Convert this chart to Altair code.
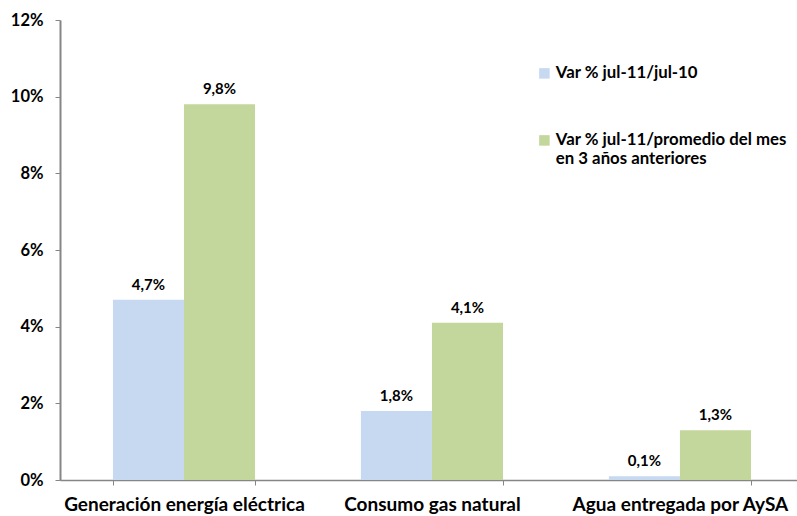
import altair as alt
import pandas as pd

# Categories and series
categories = ["Generación energía eléctrica", "Consumo gas natural", "Agua entregada por AySA"]
series_names = ["Var % jul-11/jul-10", "Var % jul-11/promedio del mes\nen 3 años anteriores"]

# Percent variation per category (%)
var_interanual = [4.7, 1.8, 0.1]
var_promedio = [9.8, 4.1, 1.3]

colors = ["#c6d9f1", "#c3d69b"]
y_ticks = [0, 2, 4, 6, 8, 10, 12]

rows = []
for cat, a, b in zip(categories, var_interanual, var_promedio):
    rows.append({"categoria": cat, "serie": series_names[0], "valor": a})
    rows.append({"categoria": cat, "serie": series_names[1], "valor": b})
df = pd.DataFrame(rows)

FONT = "Lato"

x_enc = alt.X(
    "categoria:N",
    sort=categories,
    title=None,
    scale=alt.Scale(paddingInner=0.427, paddingOuter=0.1995, align=0.535),
    axis=alt.Axis(
        labelAngle=0,
        labelFontSize=19,
        labelFontWeight="bold",
        labelColor="#000000",
        labelPadding=10,
        labelFont=FONT,
        domainColor="#868686",
        domainWidth=1.5,
        tickColor="#868686",
        tickSize=5,
        tickBand="extent",
        labelLimit=400,
    ),
)
y_enc = alt.Y(
    "valor:Q",
    title=None,
    scale=alt.Scale(domain=[0, 12], nice=False),
    axis=alt.Axis(
        values=y_ticks,
        labelExpr="datum.value + '%'",
        labelFontSize=16.5,
        labelFontWeight="bold",
        labelColor="#000000",
        labelFont=FONT,
        labelPadding=12,
        domainColor="#868686",
        domainWidth=2,
        tickColor="#868686",
        tickSize=5,
        grid=False,
    ),
)
xoff = alt.XOffset("serie:N", sort=series_names)

bars = alt.Chart(df).mark_bar().encode(
    x=x_enc,
    xOffset=xoff,
    y=y_enc,
    color=alt.Color(
        "serie:N",
        sort=series_names,
        scale=alt.Scale(domain=series_names, range=colors),
        legend=alt.Legend(
            title=None,
            orient="none",
            legendX=476,
            legendY=45,
            symbolType="square",
            symbolSize=110,
            symbolStrokeWidth=0,
            labelFontSize=16.8,
            labelFontWeight="bold",
            labelFont=FONT,
            labelColor="#000000",
            labelExpr="split(datum.label, '\\n')",
            labelLimit=400,
            rowPadding=49,
            labelOffset=3,
        ),
    ),
)

labels = alt.Chart(df).transform_calculate(
    texto="replace(format(datum.valor, '.1f'), '.', ',') + '%'"
).mark_text(
    dy=-10, fontSize=15, fontWeight="bold", font=FONT, color="#000000", baseline="alphabetic"
).encode(
    x=alt.X("categoria:N", sort=categories),
    xOffset=xoff,
    y="valor:Q",
    text="texto:N",
)

chart = (
    alt.layer(bars, labels)
    .properties(
        width=737,
        height=460,
        padding={"left": 60, "top": 20, "right": 0, "bottom": 36},
        autosize=alt.AutoSizeParams(type="none"),
        background="#ffffff",
    )
    .configure_view(stroke=None)
)

chart.save("out.html", embed_options={"renderer": "svg", "actions": False})
